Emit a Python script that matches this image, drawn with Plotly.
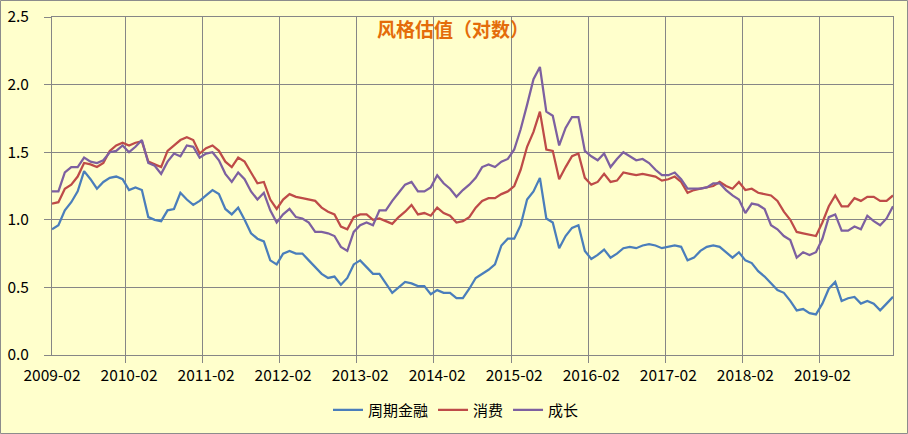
import pandas as pd
import plotly.graph_objects as go

months = list(pd.date_range("2009-02-01", periods=132, freq="MS").strftime("%Y-%m"))

cyclical_fin = [
    0.93, 0.96, 1.07, 1.13, 1.21, 1.36, 1.30, 1.23, 1.28, 1.31, 1.32, 1.30,
    1.22, 1.24, 1.22, 1.02, 1.00, 0.99, 1.07, 1.08, 1.20, 1.15, 1.11, 1.14,
    1.18, 1.22, 1.19, 1.08, 1.04, 1.09, 1.00, 0.90, 0.86, 0.84, 0.70, 0.67,
    0.75, 0.77, 0.75, 0.75, 0.70, 0.65, 0.60, 0.57, 0.58, 0.52, 0.57, 0.67,
    0.70, 0.65, 0.60, 0.60, 0.53, 0.46, 0.50, 0.54, 0.53, 0.51, 0.51, 0.45,
    0.48, 0.46, 0.46, 0.42, 0.42, 0.49, 0.57, 0.60, 0.63, 0.67, 0.81, 0.86,
    0.86, 0.96, 1.15, 1.21, 1.31, 1.01, 0.98, 0.79, 0.88, 0.94, 0.96, 0.77,
    0.71, 0.74, 0.78, 0.72, 0.75, 0.79, 0.80, 0.79, 0.81, 0.82, 0.81, 0.79,
    0.80, 0.81, 0.80, 0.70, 0.72, 0.77, 0.80, 0.81, 0.80, 0.76, 0.72, 0.76,
    0.70, 0.68, 0.62, 0.58, 0.53, 0.48, 0.46, 0.40, 0.33, 0.34, 0.31, 0.30,
    0.38, 0.49, 0.54, 0.40, 0.42, 0.43, 0.38, 0.40, 0.38, 0.33, 0.38, 0.43,
]

consumer = [
    1.12, 1.13, 1.23, 1.26, 1.32, 1.42, 1.41, 1.39, 1.42, 1.51, 1.55, 1.57,
    1.55, 1.57, 1.58, 1.43, 1.41, 1.39, 1.51, 1.55, 1.59, 1.61, 1.59, 1.49,
    1.53, 1.55, 1.51, 1.43, 1.39, 1.46, 1.43, 1.35, 1.27, 1.28, 1.15, 1.08,
    1.15, 1.19, 1.17, 1.16, 1.15, 1.14, 1.09, 1.06, 1.04, 0.95, 0.93, 1.02,
    1.04, 1.04, 1.00, 1.01, 0.99, 0.97, 1.02, 1.06, 1.11, 1.04, 1.05, 1.03,
    1.09, 1.05, 1.03, 0.98, 0.99, 1.02, 1.09, 1.14, 1.16, 1.16, 1.19, 1.21,
    1.25, 1.37, 1.54, 1.65, 1.80, 1.52, 1.51, 1.30, 1.39, 1.47, 1.49, 1.31,
    1.26, 1.28, 1.34, 1.28, 1.29, 1.35, 1.34, 1.33, 1.34, 1.33, 1.32, 1.29,
    1.30, 1.32, 1.28, 1.20, 1.22, 1.23, 1.24, 1.25, 1.28, 1.25, 1.23, 1.28,
    1.22, 1.23, 1.20, 1.19, 1.18, 1.14, 1.06, 1.00, 0.91, 0.90, 0.89, 0.88,
    0.98, 1.10, 1.18, 1.10, 1.10, 1.16, 1.14, 1.17, 1.17, 1.14, 1.14, 1.18,
]

growth = [
    1.21, 1.21, 1.35, 1.39, 1.39, 1.46, 1.43, 1.42, 1.44, 1.50, 1.51, 1.55,
    1.50, 1.54, 1.59, 1.42, 1.40, 1.34, 1.43, 1.49, 1.47, 1.55, 1.54, 1.46,
    1.49, 1.50, 1.44, 1.34, 1.28, 1.35, 1.30, 1.21, 1.15, 1.20, 1.07, 0.98,
    1.04, 1.08, 1.02, 1.01, 0.98, 0.91, 0.91, 0.90, 0.88, 0.80, 0.77, 0.91,
    0.96, 0.98, 0.96, 1.07, 1.07, 1.14, 1.20, 1.26, 1.28, 1.21, 1.21, 1.24,
    1.33, 1.27, 1.23, 1.17, 1.22, 1.26, 1.31, 1.39, 1.41, 1.39, 1.43, 1.45,
    1.52, 1.67, 1.85, 2.04, 2.13, 1.80, 1.77, 1.55, 1.68, 1.76, 1.76, 1.51,
    1.47, 1.44, 1.49, 1.39, 1.45, 1.50, 1.47, 1.44, 1.45, 1.42, 1.37, 1.33,
    1.33, 1.35, 1.30, 1.23, 1.23, 1.23, 1.24, 1.27, 1.27, 1.22, 1.18, 1.15,
    1.05, 1.12, 1.11, 1.08, 0.96, 0.93, 0.88, 0.85, 0.72, 0.76, 0.74, 0.76,
    0.86, 1.02, 1.04, 0.92, 0.92, 0.95, 0.93, 1.03, 0.99, 0.96, 1.01, 1.10,
]

series_names = ["周期金融", "消费", "成长"]
series_colors = ["#4A7EBB", "#BE4B48", "#7D60A0"]

FONT = "Noto Sans CJK SC, Microsoft YaHei, sans-serif"
GRID = "#868686"
BG = "#FFFFCC"

fig = go.Figure()
for name, vals, col in zip(series_names, [cyclical_fin, consumer, growth], series_colors):
    fig.add_trace(go.Scatter(
        x=months, y=vals, name=name, mode="lines",
        line=dict(color=col, width=2.25),
    ))

W, H = 908, 434
L, R, T, B = 52, 15, 17, 79
pw, ph = W - L - R, H - T - B

fig.update_layout(
    width=W, height=H,
    margin=dict(l=L, r=R, t=T, b=B, pad=0, autoexpand=False),
    paper_bgcolor=BG, plot_bgcolor=BG,
    font=dict(family=FONT, size=15, color="#000000"),
    showlegend=True,
    legend=dict(
        orientation="h", x=(456 - L) / pw, xanchor="center",
        y=(H - B - 410) / ph, yanchor="middle",
        font=dict(size=15), bgcolor="rgba(0,0,0,0)", itemwidth=30,
    ),
    xaxis=dict(
        type="category", tickmode="linear", tick0=0, dtick=12,
        tickson="boundaries", showgrid=True, gridcolor=GRID, gridwidth=1,
        ticks="outside", ticklen=7, tickcolor=GRID, tickwidth=1,
        showline=True, linecolor=GRID, linewidth=1, mirror=True,
        tickangle=0, ticklabelstandoff=6, zeroline=False, automargin=False,
        tickfont=dict(size=15.5),
    ),
    yaxis=dict(
        range=[0, 2.5], tickmode="linear", tick0=0, dtick=0.5, tickformat=".1f",
        showgrid=True, gridcolor=GRID, gridwidth=1,
        ticks="outside", ticklen=7, tickcolor=GRID, tickwidth=1,
        showline=True, linecolor=GRID, linewidth=1, mirror=True,
        zeroline=False, ticklabelstandoff=12, automargin=False,
        tickfont=dict(size=15.5),
    ),
    annotations=[dict(
        text="<b>风格估值（对数）</b>", xref="paper", yref="paper",
        x=(453 - L) / pw, y=(H - B - 29) / ph, xanchor="center", yanchor="middle",
        showarrow=False, font=dict(size=19, color="#E46C0A", family=FONT),
    )],
    shapes=[dict(
        type="rect", xref="paper", yref="paper",
        x0=(0.5 - L) / pw, x1=(W - 0.5 - L) / pw,
        y0=(H - B - (H - 0.5)) / ph, y1=(H - B - 0.5) / ph,
        line=dict(color="#8C8C8C", width=1), fillcolor="rgba(0,0,0,0)", layer="below",
    )],
)

fig.write_html("out.html")
